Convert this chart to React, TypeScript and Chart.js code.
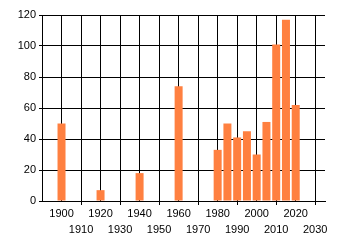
import React, { useEffect, useRef } from "react";
import { Chart, registerables } from "chart.js";

Chart.register(...registerables);

const years = [1900, 1920, 1940, 1960, 1980, 1985, 1990, 1995, 2000, 2005, 2010, 2015, 2020];
const values = [50, 7, 18, 74, 33, 50, 41, 45, 30, 51, 101, 117, 62];
const xTicks = [1900, 1910, 1920, 1930, 1940, 1950, 1960, 1970, 1980, 1990, 2000, 2010, 2020, 2030];
const yTicks = [0, 20, 40, 60, 80, 100, 120];

export default function App() {
  const ref = useRef<HTMLCanvasElement | null>(null);
  useEffect(() => {
    document.body.style.margin = "0";
    const font = { family: "'Liberation Sans', Arial, sans-serif", size: 11, lineHeight: "16px" };
    const chart = new Chart(ref.current!, {
      type: "bar",
      data: {
        datasets: [
          {
            data: years.map((y, i) => ({ x: y, y: values[i] })),
            backgroundColor: "rgb(255,128,64)",
            borderWidth: 0,
            barPercentage: 0.82,
            categoryPercentage: 1,
          },
        ],
      },
      options: {
        animation: false,
        responsive: false,
        devicePixelRatio: 1,
        layout: { padding: { top: 15, right: 15, left: 0, bottom: 0 } },
        plugins: { legend: { display: false }, tooltip: { enabled: false } },
        scales: {
          x: {
            type: "linear",
            min: 1890,
            max: 2035,
            offset: false,
            afterBuildTicks: (s: any) => {
              s.ticks = xTicks.map((v) => ({ value: v }));
            },
            afterFit: (s: any) => {
              s.height = 44;
            },
            grid: {
              offset: false,
              color: "#000",
              lineWidth: 1,
              tickLength: 4,
              tickColor: (ctx: any) =>
                ctx.tick && Math.round((ctx.tick.value - 1900) / 10) % 2 === 1 ? "#000" : "rgba(0,0,0,0)",
            },
            border: { color: "#000", width: 1 },
            ticks: {
              autoSkip: false,
              maxRotation: 0,
              minRotation: 0,
              padding: 1,
              color: "#000",
              font,
              callback: (v: any) => {
                const n = Number(v);
                return Math.round((n - 1900) / 10) % 2 === 0 ? String(n) : ["", String(n)];
              },
            },
          },
          y: {
            min: 0,
            max: 120,
            afterBuildTicks: (s: any) => {
              s.ticks = yTicks.map((v) => ({ value: v }));
            },
            afterFit: (s: any) => {
              s.width = 42;
            },
            grid: { color: "#000", lineWidth: 1, tickLength: 3, tickColor: "#000" },
            border: { color: "#000", width: 1 },
            ticks: { color: "#000", padding: 3, font: { family: font.family, size: 11 } },
          },
        },
      },
    });
    return () => chart.destroy();
  }, []);
  return <canvas ref={ref} width={340} height={245} style={{ display: "block" }} />;
}
